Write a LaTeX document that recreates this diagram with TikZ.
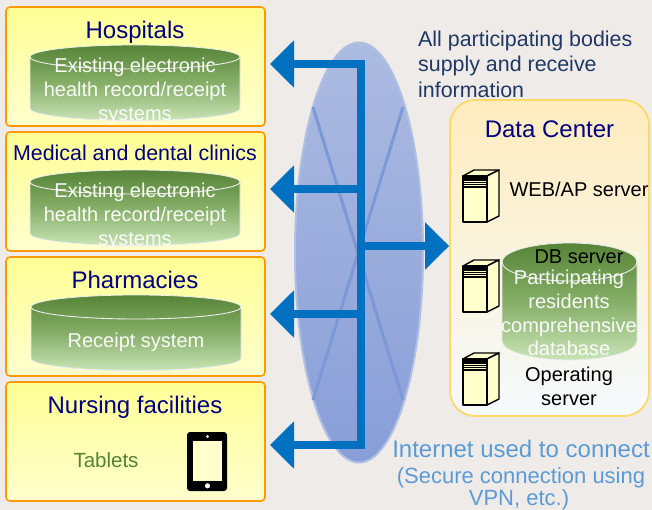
\documentclass[tikz,border=0pt]{standalone}
\usepackage{fontspec}
\setmainfont{Liberation Sans}
\usetikzlibrary{arrows.meta}
\definecolor{bgc}{HTML}{EFEBE9}
\definecolor{navy}{HTML}{000080}
\definecolor{flow}{HTML}{0070C0}
\definecolor{grntop}{HTML}{568437}
\definecolor{grnmid}{HTML}{86AE68}
\definecolor{grnbot}{HTML}{C8E4B6}
\definecolor{skyb}{HTML}{5B9BD5}
\definecolor{inktxt}{HTML}{1F3864}
\newcommand{\fs}[1]{\fontsize{#1}{#1}\selectfont}
\tikzset{
  panel/.style={draw={rgb,255:red,255;green,153;blue,0},line width=1.6pt,rounded corners=4pt,top color={rgb,255:red,255;green,255;blue,150},bottom color={rgb,255:red,255;green,255;blue,205},minimum width=259pt,minimum height=119pt,inner sep=0pt},
  title/.style={text=navy,font=\fs{24},inner sep=0pt,anchor=base},
  cyltxt/.style={text=white,opacity=.95,font=\fs{20},inner sep=0pt,anchor=base},
  blk/.style={text=black,font=\fs{20},inner sep=0pt,anchor=base},
  flowline/.style={draw=flow,line width=8pt},
  flowarrow/.style={draw=flow,line width=8pt,-{Triangle[length=24pt,width=46pt]}},
  xline/.style={draw={rgb,255:red,125;green,152;blue,214},line width=3pt},
  srv/.style={draw=black,line width=1.4pt,fill={rgb,255:red,255;green,255;blue,204},line join=round},
}
% x1 x2 ytop(centre of top ellipse) ybot(centre of bottom ellipse) ry
\newcommand{\cyl}[5]{%
  \pgfmathsetmacro{\rx}{(#2-#1)/2}
  \shade[top color=grntop,bottom color=grnbot,middle color=grnmid,draw=white!85!gray,line width=.8pt]
    (#1,#3) arc[start angle=180,end angle=0,x radius=\rx,y radius=#5] -- (#2,#4)
    arc[start angle=0,end angle=-180,x radius=\rx,y radius=#5] -- cycle;
  \draw[white!85!gray,line width=.9pt] (#1,#3) arc[start angle=180,end angle=360,x radius=\rx,y radius=#5];
}
% ytop
\newcommand{\server}[1]{%
  \pgfmathsetmacro{\a}{#1}
  \pgfmathsetmacro{\b}{#1-6}
  \pgfmathsetmacro{\c}{#1-52}
  \pgfmathsetmacro{\d}{#1-46}
  \draw[srv] (463,\b) -- (474,\a) -- (499,\a) -- (487,\b) -- cycle;
  \draw[srv] (487,\b) -- (499,\a) -- (499,\d) -- (487,\c) -- cycle;
  \draw[srv] (463,\b) rectangle (487,\c);
  \fill[black] (463,\b) rectangle (487,\b-5);
  \draw[black,line width=.8pt] (463,\b-6.5) -- (487,\b-6.5) (463,\b-8.5) -- (487,\b-8.5);
  \draw[black,line width=1.2pt] (463,\b-11) -- (487,\b-11);
}
\begin{document}
\begin{tikzpicture}[x=1pt,y=1pt]
\useasboundingbox (0,0) rectangle (652,-510);
\fill[bgc] (0,0) rectangle (652,-510);

% left panels
\node[panel] (hosp) at (135.5,-66.5) {};
\node[panel] (clin) at (135.5,-191.5) {};
\node[panel] (phar) at (135.5,-316.5) {};
\node[panel] (nurs) at (135.5,-441.5) {};
\node[title] (t1) at (135,-39) {Hospitals};
\node[title,font=\fs{21.4}] (t2) at (135,-160.6) {Medical and dental clinics};
\node[title] (t3) at (135,-288.5) {Pharmacies};
\node[title] (t4) at (135,-413) {Nursing facilities};

\cyl{30}{240}{-57}{-108.5}{12}
\cyl{30}{240}{-182}{-233.5}{12}
\cyl{31}{241}{-307}{-358.5}{12}

\foreach \yy/\nm in {0/a,125/b}{
  \node[cyltxt] (e1\nm) at (135,-73-\yy) {Existing electronic};
  \node[cyltxt] (e2\nm) at (135,-97-\yy) {health record/receipt};
  \node[cyltxt] (e3\nm) at (135,-121-\yy) {systems};
}
\node[cyltxt] (rs) at (136,-347) {Receipt system};
\node[inner sep=0pt,anchor=base,text={rgb,255:red,84;green,130;blue,53},font=\fs{20.5}] (tab) at (106,-467) {Tablets};

% tablet
\fill[black,rounded corners=3pt] (187,-432) rectangle (227,-491);
\fill[fill={rgb,255:red,255;green,255;blue,205}] (193,-441) rectangle (222,-481);
\fill[white!80!gray] (207.5,-436.5) circle (1.6);
\fill[white] (207.5,-485.8) circle (2.6);

% data centre
\node[draw={rgb,255:red,255;green,217;blue,102},line width=1.8pt,rounded corners=25pt,
  top color={rgb,255:red,255;green,236;blue,190},bottom color={rgb,255:red,245;green,250;blue,254},
  minimum width=199pt,minimum height=316pt,inner sep=0pt] (dc) at (549.5,-258) {};
\node[title] (dct) at (549.5,-138) {Data Center};
\server{-170}
\server{-260}
\server{-353}
\node[blk] (web) at (579,-197) {WEB/AP server};
\cyl{502}{637}{-262}{-341}{19}
\node[blk] (dbs) at (579,-263) {DB server};
\node[cyltxt] (d1) at (569,-284) {Participating};
\node[cyltxt] (d2) at (569,-308) {residents};
\node[cyltxt] (d3) at (569,-332) {comprehensive};
\node[cyltxt] (d4) at (569,-355) {database};
\node[blk] (o1) at (569,-381) {Operating};
\node[blk] (o2) at (569,-405) {server};

% network ellipse
\shade[top color={rgb,255:red,172;green,187;blue,225},bottom color={rgb,255:red,136;green,158;blue,216},
  draw={rgb,255:red,176;green,192;blue,226},line width=2pt] (359,-252.5) ellipse [x radius=64,y radius=210];
\draw[xline] (313,-107) -- (403,-400);
\draw[xline] (403,-107) -- (313,-400);

% flow
\coordinate (b1) at (361,-64);
\coordinate (b2) at (361,-189);
\coordinate (b3) at (361,-314);
\coordinate (b4) at (361,-445);
\coordinate (b5) at (361,-246);
\coordinate (tip1) at (270,-64);
\coordinate (tip2) at (270,-189);
\coordinate (tip3) at (270,-314);
\coordinate (tip4) at (270,-445);
\coordinate (tip5) at (dc.west|-b5);
\draw[flowline] ([yshift=4pt]b1) -- ([yshift=-4pt]b4);
\draw[flowarrow] ([xshift=1pt]b1) -- (tip1);
\draw[flowarrow] (b2) -- (tip2);
\draw[flowarrow] (b3) -- (tip3);
\draw[flowarrow] ([xshift=1pt]b4) -- (tip4);
\draw[flowarrow] (b5) -- (tip5);

% captions
\node[inner sep=0pt,anchor=base west,text=inktxt,font=\fs{21.4}] (c1) at (418,-47) {All participating bodies};
\node[inner sep=0pt,anchor=base west,text=inktxt,font=\fs{21.4}] (c2) at (418,-72) {supply and receive};
\node[inner sep=0pt,anchor=base west,text=inktxt,font=\fs{21.4}] (c3) at (418,-98) {information};
\node[inner sep=0pt,anchor=base,text=skyb,font=\fs{24}] (n1) at (521,-457) {Internet used to connect};
\node[inner sep=0pt,anchor=base,text=skyb,font=\fs{22}] (n2) at (521,-483) {(Secure connection using};
\node[inner sep=0pt,anchor=base,text=skyb,font=\fs{22}] (n3) at (519,-505) {VPN, etc.)};
\end{tikzpicture}
\end{document}
